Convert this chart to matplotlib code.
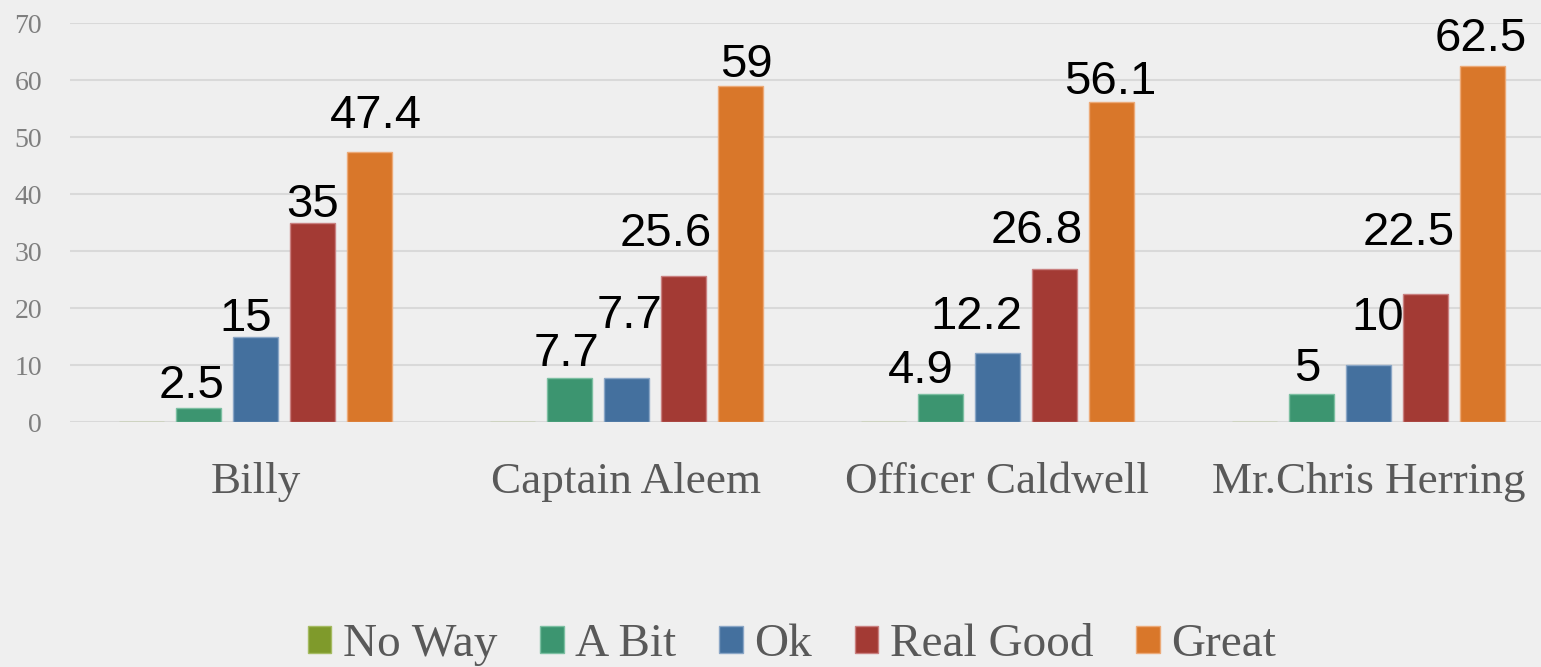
import numpy as np
import matplotlib
matplotlib.use("Agg")
import matplotlib.pyplot as plt

# data
people = ["Billy", "Captain Aleem", "Officer Caldwell", "Mr.Chris Herring"]
series = ["No Way", "A Bit", "Ok", "Real Good", "Great"]
no_way = [0, 0, 0, 0]
a_bit = [2.5, 7.7, 4.9, 5]
ok = [15, 7.7, 12.2, 10]
real_good = [35, 25.6, 26.8, 22.5]
great = [47.4, 59, 56.1, 62.5]
yticks = [0, 10, 20, 30, 40, 50, 60, 70]

values = [no_way, a_bit, ok, real_good, great]
colors = ["#7f9a2b", "#3c9570", "#44709e", "#a33a34", "#d9772a"]
edge_colors = ["#a5bb62", "#7cbfa2", "#8aa6c6", "#c98080", "#ecaa78"]

# label nudges (points) so they sit like the hand-placed ones in the original
label_dx = [None,
            [-5, -2, -14, -3],
            [-7, 2, -15, 7],
            [0, -13, -13, -12],
            [5, 4, -1, -1]]
label_dy = [None,
            [7, 9, 8, 9],
            [4, 36, 17, 25],
            [4, 22, 19, 35],
            [17, 6, 6, 11]]

BG = "#efefef"
SERIF = ["Liberation Serif", "DejaVu Serif"]

fig = plt.figure(figsize=(15.41, 6.67), dpi=100, facecolor=BG)
ax = fig.add_axes([0.0454, 0.367, 0.963, 0.5985])
ax.set_facecolor(BG)

x = np.arange(len(people))
step = 0.1536
width = 0.121

for i, (vals, name) in enumerate(zip(values, series)):
    pos = x + (i - 2) * step
    bars = ax.bar(pos, vals, width, color=colors[i], edgecolor=edge_colors[i],
                  linewidth=1.0, label=name, zorder=3)
    for j, (b, v) in enumerate(zip(bars, vals)):
        if v == 0:
            continue
        ax.annotate(f"{v:g}", (b.get_x() + b.get_width() / 2, v),
                    xytext=(label_dx[i][j], label_dy[i][j]),
                    textcoords="offset points",
                    ha="center", va="baseline", fontsize=34,
                    family="Liberation Sans", color="black", zorder=4)

ax.set_xlim(-0.5, len(people) - 0.5)
ax.set_ylim(0, 70)
ax.set_yticks(yticks)
ax.set_xticks(x)
ax.set_xticklabels(people, family=SERIF, fontsize=32.5, color="#595959")
ax.set_yticklabels([str(t) for t in yticks], family=SERIF, fontsize=20,
                   color="#7f7f7f")
ax.tick_params(axis="x", length=0, pad=29)
ax.tick_params(axis="y", length=0, pad=20)
ax.grid(axis="y", color="#d9d9d9", linewidth=1.5, zorder=0)
for s in ax.spines.values():
    s.set_visible(False)

leg = fig.legend(loc="center", bbox_to_anchor=(792 / 1541, 1 - 645 / 667),
                 ncol=5, frameon=False, prop={"family": SERIF, "size": 34},
                 handlelength=0.5, handleheight=0.5, handletextpad=0.25,
                 columnspacing=0.9, labelcolor="#595959")

fig.savefig("out.png", dpi=100, facecolor=BG)
